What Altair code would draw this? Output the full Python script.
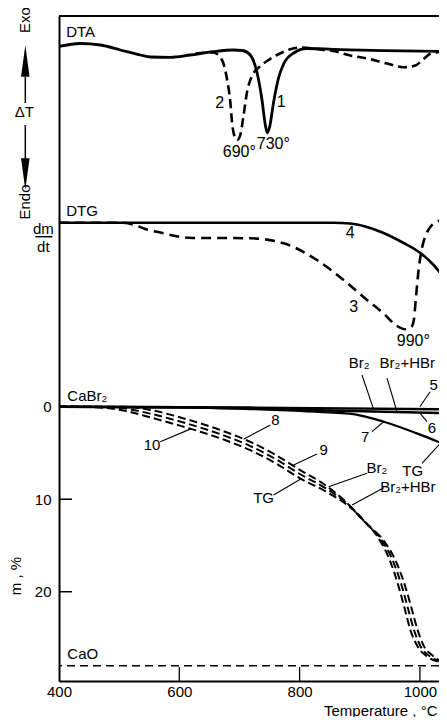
import altair as alt
import pandas as pd

FONT = "Liberation Sans"

# ---------------- DTA (arbitrary delta-T units) ----------------
dta1_T = [400, 435, 469, 502, 535, 552, 585, 618, 656, 690, 705, 718, 729, 737.5, 743, 746.3, 750.5, 756.8, 765, 773.4, 790, 812, 856, 939, 1046]
dta1_v = [0, 0.3, 0.15, -0.35, -0.85, -1.05, -1.08, -0.85, -0.52, -0.35, -0.4, -0.85, -2.55, -5.35, -7.85, -8.65, -7.95, -5.55, -3.15, -1.75, -0.65, -0.2, -0.28, -0.42, -0.5]
dta2_T = [627, 656.5, 671, 679.3, 684.8, 688.1, 692.3, 696.4, 701.4, 706.9, 712.6, 720.9, 731.3, 745.8, 762.4, 784.5, 801.2, 834.4, 856, 884.3, 912.1, 945.3, 972.9, 992.4, 1006.2, 1020.1, 1046]
dta2_v = [-0.7, -0.6, -1.35, -3.25, -5.55, -7.85, -9.05, -9.35, -8.85, -6.85, -4.55, -2.95, -2.15, -1.45, -0.85, -0.28, -0.1, -0.3, -0.45, -0.9, -1.2, -1.7, -2.08, -1.9, -1.25, -0.65, -0.5]

# ---------------- DTG (arbitrary dm/dt units) ----------------
dtg4_T = [400, 856, 884.3, 909.2, 939.6, 972.9, 1000.7, 1022.8, 1046]
dtg4_v = [0, 0, -0.08, -0.38, -1.03, -2.03, -3.03, -4.23, -6.0]
dtg3_T = [400, 501.9, 523.5, 543.5, 568.4, 593.4, 621.6, 662.7, 718, 773.4, 828.9, 873.2, 912.1, 939.7, 961.9, 975.7, 985.7, 989.9, 993.5, 997.8, 1003.5, 1010.6, 1017.3, 1033.9, 1046]
dtg3_v = [0, 0, -0.18, -0.63, -0.98, -1.33, -1.53, -1.53, -1.56, -2.06, -3.73, -5.73, -7.73, -9.08, -10.33, -10.66, -10.43, -9.73, -7.43, -4.73, -2.53, -1.13, -0.43, 0.22, 0.32]

# ---------------- TG (mass loss m, %) ----------------
tg5_T = [400, 718, 1046]
tg5_m = [0, 0.09, 0.28]
tg6_T = [400, 600, 718, 851, 1046]
tg6_m = [0, 0.05, 0.19, 0.41, 0.7]
tg7_T = [400, 635, 718, 801, 856, 884, 940, 995, 1046]
tg7_m = [0, 0.09, 0.25, 0.46, 0.63, 0.75, 1.62, 2.88, 4.2]
tg8_T = [400, 460, 477, 510, 552, 593, 635, 676, 718, 760, 801, 840, 878, 903, 928, 950, 964, 975, 984, 996, 1013, 1032, 1046]
tg8_m = [0, 0, 0, 0, 0.35, 1.0, 1.8, 2.7, 3.8, 5.2, 6.85, 8.35, 10.35, 12.1, 13.9, 16.6, 19.3, 21.9, 24.1, 25.9, 27.05, 27.6, 27.8]
tg9_T = [400, 460, 477, 510, 552, 593, 635, 676, 718, 760, 801, 843, 884, 909, 934, 956, 970, 981, 990, 1001, 1017, 1034, 1046]
tg9_m = [0, 0, 0.05, 0.2, 0.75, 1.45, 2.25, 3.15, 4.25, 5.65, 7.3, 8.8, 10.75, 12.45, 14.2, 16.8, 19.4, 22.0, 24.1, 25.9, 27.0, 27.55, 27.75]
tg10_T = [400, 460, 477, 510, 552, 593, 635, 676, 718, 760, 801, 846, 890, 915, 940, 962, 976, 987, 996, 1006, 1021, 1036, 1046]
tg10_m = [0, 0.05, 0.12, 0.45, 1.15, 1.9, 2.7, 3.6, 4.7, 6.1, 7.75, 9.25, 11.2, 12.9, 14.5, 17.0, 19.5, 22.0, 24.1, 25.8, 26.9, 27.5, 27.7]
cao_level = 28.0

x_tick_values = [400, 600, 800, 1000]
x_inner_ticks = [600, 800, 1000]
y_tick_values = [0, 10, 20]
y_inner_ticks = [10, 20]

# annotation texts
dta_labels = ["2", "1", "690°", "730°"]
dta_label_T = [667, 769.6, 699.8, 756.3]
dta_label_v = [-5.62, -5.52, -10.55, -9.75]

dtg_labels = ["4", "3", "990°"]
dtg_label_T = [884.3, 889.8, 989]
dtg_label_v = [-1.06, -8.4, -11.83]

tg_labels = ["Br₂", "Br₂+HBr", "5", "6", "7", "TG", "8", "9", "10", "TG", "Br₂", "Br₂+HBr"]
tg_label_T = [899, 979, 1023, 1020.1, 909.2, 988, 759.6, 839.9, 554.6, 740.2, 928.7, 980]
tg_label_m = [-4.71, -4.71, -2.4, 2.34, 3.24, 6.95, 1.44, 4.68, 4.14, 9.9, 6.66, 8.68]

lead_T1 = [903.7, 945.3, 1017.0, 1011.8, 920.4, 1003.5, 751.3, 828.9, 568.4, 756.8, 912.1, 940.0]
lead_m1 = [-3.43, -3.10, -1.62, 1.62, 2.7, 6.12, 1.98, 5.11, 3.78, 9.55, 7.2, 8.75]
lead_T2 = [922.5, 961.9, 1000.0, 1000.7, 939.6, 1033.9, 706.9, 790.0, 621.1, 804.0, 848.2, 887.1]
lead_m2 = [0.17, 0.54, 0.0, 0.75, 1.62, 3.96, 3.52, 6.30, 2.34, 7.74, 8.65, 10.63]

# ---------------- scales ----------------
W, H = 380, 665
XSCALE = alt.Scale(domain=[400, 1031.75], nice=False, zero=False)
XAXIS = alt.Axis(values=x_tick_values, format="d", tickSize=0, labelFontSize=15, labelFont=FONT,
                 labelColor="black", labelPadding=3, labelFlush=False, domainColor="black",
                 domainWidth=2, grid=False, title="Temperature , °C", titleFont=FONT,
                 titleFontSize=15, titleFontWeight="normal", titleColor="black",
                 titleAlign="right", titleAnchor="end", titleX=378, titleY=29,
                 titleBaseline="middle")
DTA_SCALE = alt.Scale(domain=[-63.45, 3.05], nice=False, zero=False)
DTG_SCALE = alt.Scale(domain=[-45.83, 20.67], nice=False, zero=False)
TG_SCALE = alt.Scale(domain=[-42.24, 29.65], nice=False, zero=False, reverse=True)
TG_AXIS = alt.Axis(values=y_tick_values, format="d", tickSize=0, labelFontSize=15, labelFont=FONT,
                   labelColor="black", labelPadding=8, domainColor="black", domainWidth=2,
                   grid=False, title=None, orient="left", labels=True, domain=True, ticks=False)


def X(f):
    return alt.X(f"{f}:Q", scale=XSCALE, axis=XAXIS)


def Y(f, sc, ax):
    return alt.Y(f"{f}:Q", scale=sc, axis=ax)


def curve(T, v, sc, ax, dash=None, sw=2.5):
    df = pd.DataFrame({"T": T, "v": v})
    kw = dict(color="black", strokeWidth=sw, clip=True, interpolate="monotone")
    if dash:
        kw["strokeDash"] = dash
    return alt.Chart(df).mark_line(**kw).encode(x=X("T"), y=Y("v", sc, ax), order="T:Q")


def texts(labels, T, v, sc, ax, size=15, align="center", angle=0):
    df = pd.DataFrame({"label": labels, "T": T, "v": v})
    return alt.Chart(df).mark_text(font=FONT, fontSize=size, color="black", align=align,
                                   baseline="middle", angle=angle).encode(
        x=X("T"), y=Y("v", sc, ax), text="label:N")


# ---------------- DTA group ----------------
arrow_df = pd.DataFrame({"T": [344, 344], "v1": [-3.05, -7.85], "v2": [-5.65, -11.35]})
head_df = pd.DataFrame({"T": [344], "v": [-1.45]})
head_df2 = pd.DataFrame({"T": [344], "v": [-12.75]})
S, A = DTA_SCALE, None
dta = alt.layer(
    curve(dta1_T, dta1_v, S, A, None, 2.8),
    curve(dta2_T, dta2_v, S, A, [9, 5], 2.6),
    texts(dta_labels, dta_label_T, dta_label_v, S, A, 16),
    texts(["DTA"], [412], [1.45], S, A, 15, "left"),
    texts(["Exo"], [344], [2.65], S, A, 15, "center", 270),
    texts(["Endo"], [344], [-15.55], S, A, 15, "center", 270),
    texts(["ΔT"], [342.3], [-6.55], S, A, 15),
    alt.Chart(arrow_df).mark_rule(color="black", strokeWidth=1.5).encode(
        x=X("T"), y=Y("v1", S, A), y2="v2:Q"),
    alt.Chart(head_df).mark_point(shape="M0,-1L0.27,1L-0.27,1Z", filled=True, size=1000,
                                  color="black", opacity=1).encode(x=X("T"), y=Y("v", S, A)),
    alt.Chart(head_df2).mark_point(shape="M0,1L0.27,-1L-0.27,-1Z", filled=True, size=1000,
                                   color="black", opacity=1).encode(x=X("T"), y=Y("v", S, A)),
)

# ---------------- DTG group ----------------
frac_df = pd.DataFrame({"T1": [360.6], "T2": [388.9], "v": [-1.4]})
S = DTG_SCALE
dtg = alt.layer(
    curve(dtg4_T, dtg4_v, S, A, None, 2.6),
    curve(dtg3_T, dtg3_v, S, A, [10, 6], 2.6),
    texts(dtg_labels, dtg_label_T, dtg_label_v, S, A, 16),
    texts(["DTG"], [412], [1.17], S, A, 15, "left"),
    texts(["dm", "dt"], [373.9, 373.9], [-0.63, -2.43], S, A, 15),
    alt.Chart(frac_df).mark_rule(color="black", strokeWidth=1.5).encode(
        x=X("T1"), x2="T2:Q", y=Y("v", S, A)),
)

# ---------------- TG group ----------------
lead_df = pd.DataFrame({"T1": lead_T1, "m1": lead_m1, "T2": lead_T2, "m2": lead_m2})
xt_df = pd.DataFrame({"T": x_inner_ticks})
yt_df = pd.DataFrame({"m": y_inner_ticks})
S, A = TG_SCALE, TG_AXIS
tg = alt.layer(
    alt.Chart(pd.DataFrame({"m": [cao_level]})).mark_rule(
        color="black", strokeWidth=1.3, strokeDash=[8, 5]).encode(y=Y("m", S, A)),
    curve(tg5_T, tg5_m, S, A, None, 2.4),
    curve(tg6_T, tg6_m, S, A, None, 2.4),
    curve(tg7_T, tg7_m, S, A, None, 2.2),
    curve(tg8_T, tg8_m, S, A, [8, 4], 2.0),
    curve(tg9_T, tg9_m, S, A, [8, 4], 2.0),
    curve(tg10_T, tg10_m, S, A, [8, 4], 2.0),
    alt.Chart(lead_df).mark_rule(color="black", strokeWidth=1.1).encode(
        x=X("T1"), x2="T2:Q", y=Y("m1", S, A), y2="m2:Q"),
    texts(tg_labels, tg_label_T, tg_label_m, S, A, 15),
    texts(["CaBr₂", "CaO"], [413.8, 413.8], [-1.16, 26.74], S, A, 15, "left"),
    texts(["m , %"], [328.5], [18.3], S, A, 15, "center", 270),
    alt.Chart(xt_df).mark_rule(color="black", strokeWidth=1.3).encode(
        x=X("T"), y=alt.value(H), y2=alt.value(H - 14)),
    alt.Chart(yt_df).mark_rule(color="black", strokeWidth=1.5).encode(
        y=Y("m", S, A), x=alt.value(0), x2=alt.value(13)),
    alt.Chart(pd.DataFrame({"T": [400]})).mark_rule(color="black", strokeWidth=2).encode(
        x=alt.value(0), x2=alt.value(W), y=alt.value(0)),
)

chart = alt.layer(tg, dta, dtg).resolve_scale(y="independent").properties(
    width=W, height=H,
    autosize=alt.AutoSizeParams(type="none"),
    padding={"left": 51, "top": 8, "right": 0, "bottom": 36},
).configure_view(stroke=None).configure(background="white")

chart.save("out.html", embed_options={"renderer": "svg", "actions": False})
